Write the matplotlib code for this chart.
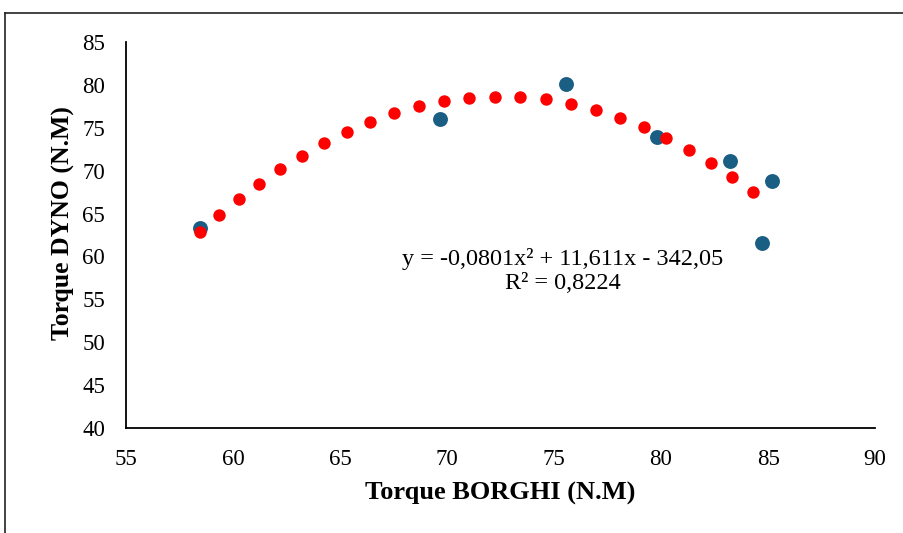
#!/usr/bin/env python3
"""Torque DYNO vs Torque BORGHI scatter with quadratic trend points."""
import matplotlib

matplotlib.use("Agg")
import matplotlib.pyplot as plt
from matplotlib.lines import Line2D

# measured points (blue)
borghi = [58.46, 69.69, 75.58, 79.80, 83.24, 85.20, 84.72]
dyno = [63.28, 76.06, 80.10, 73.89, 71.09, 68.83, 61.53]

# trend points (red)
trend_x = [58.46, 59.35, 60.27, 61.21, 62.20, 63.21, 64.25, 65.31, 66.42,
           67.54, 68.68, 69.86, 71.04, 72.23, 73.41, 74.61, 75.78, 76.95,
           78.07, 79.19, 80.25, 81.31, 82.34, 83.33, 84.30]
trend_y = [62.88, 64.83, 66.66, 68.48, 70.19, 71.74, 73.19, 74.54, 75.71,
           76.69, 77.50, 78.09, 78.51, 78.62, 78.55, 78.32, 77.77, 77.07,
           76.14, 75.05, 73.81, 72.41, 70.89, 69.22, 67.48]

x_ticks = [55, 60, 65, 70, 75, 80, 85, 90]
y_ticks = [40, 45, 50, 55, 60, 65, 70, 75, 80, 85]

equation = "y = -0,0801x² + 11,611x - 342,05"
r_squared = "R² = 0,8224"

plt.rcParams["font.family"] = ["Liberation Serif", "DejaVu Serif"]

fig = plt.figure(figsize=(9.04, 5.33), dpi=100)
fig.patch.set_facecolor("white")
ax = fig.add_axes([0.1394, 0.197, 0.8286, 0.724])

ax.scatter(borghi, dyno, s=115, color="#1B5E83", zorder=2, linewidths=0)
ax.scatter(trend_x, trend_y, s=80, color="#FF0000", zorder=3, linewidths=0)

ax.set_xlim(55, 90)
ax.set_ylim(40, 85)
ax.set_xticks(x_ticks)
ax.set_yticks(y_ticks)
ax.tick_params(length=0, labelsize=16.5, colors="black")
ax.tick_params(axis="x", pad=15)
ax.tick_params(axis="y", pad=15)

for side in ("top", "right"):
    ax.spines[side].set_visible(False)
for side in ("left", "bottom"):
    ax.spines[side].set_linewidth(1.3)
    ax.spines[side].set_color("black")

ax.set_xlabel("Torque BORGHI (N.M)", fontsize=19, fontweight="bold")
ax.set_ylabel("Torque DYNO (N.M)", fontsize=18.5, fontweight="bold")
ax.xaxis.set_label_coords(0.5, -0.14)
ax.yaxis.set_label_coords(-0.068, 0.53)

ax.text(75.42, 59.7, equation, fontsize=17.5, ha="center", va="center")
ax.text(75.42, 56.8, r_squared, fontsize=17.5, ha="center", va="center")

# outer chart frame (runs off the right and bottom edges)
fig.add_artist(Line2D([0.0055, 0.0055], [0.0, 0.976], color="#222222",
                      linewidth=1.2, transform=fig.transFigure))
fig.add_artist(Line2D([0.0055, 1.0], [0.976, 0.976], color="#222222",
                      linewidth=1.2, transform=fig.transFigure))

fig.savefig("out.png", dpi=100, facecolor="white")
print("Wrote out.png")
